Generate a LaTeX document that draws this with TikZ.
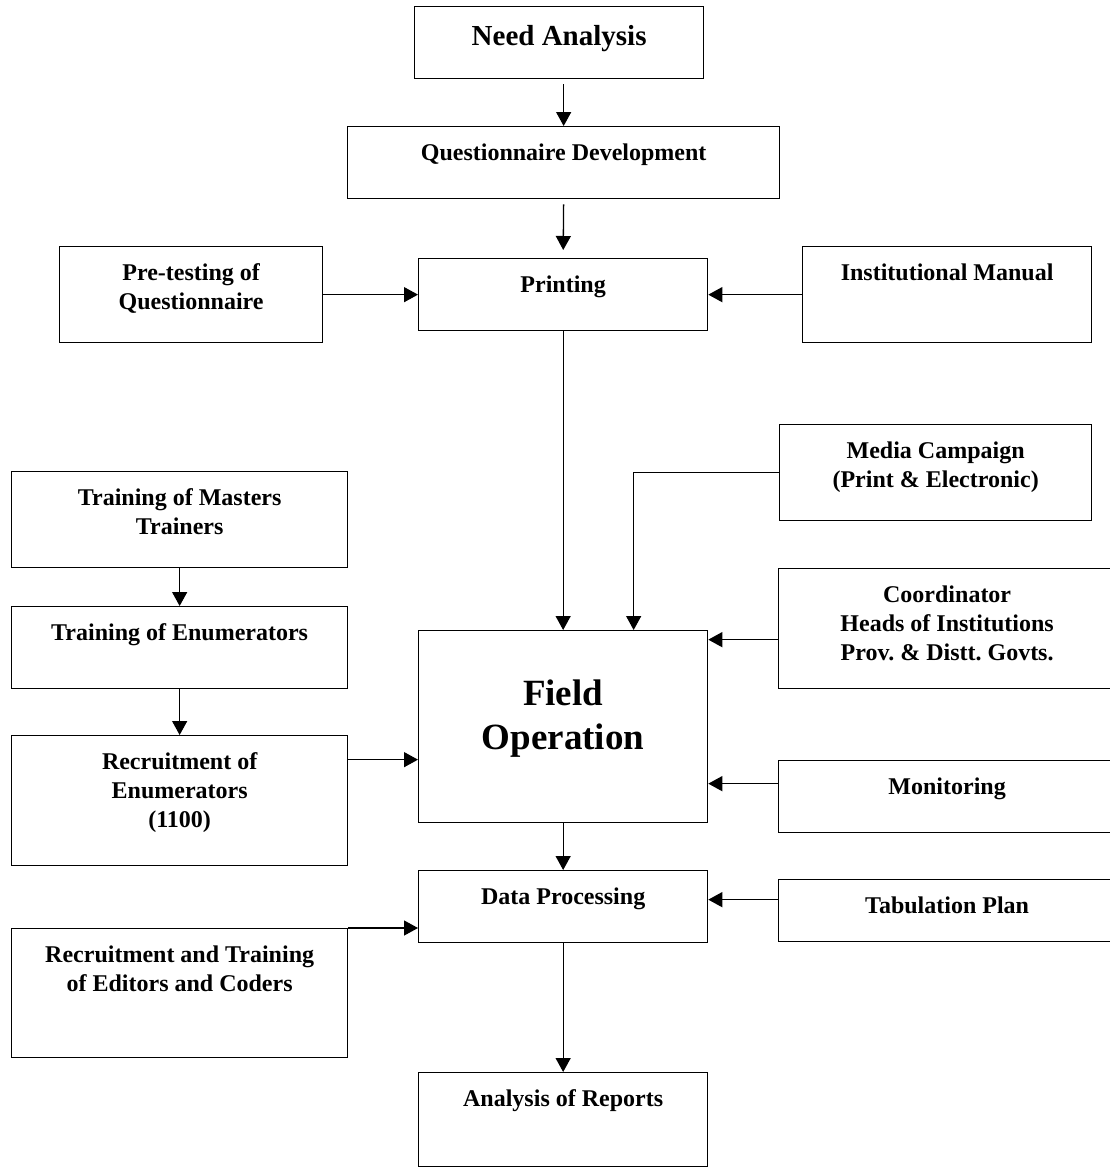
\documentclass[tikz,border=0pt]{standalone}
\usepackage{fontspec}
\setmainfont{Liberation Serif}
\usetikzlibrary{arrows.meta}

\begin{document}
\frenchspacing
\begin{tikzpicture}[x=1pt, y=-1pt,
    box/.style 2 args={draw, line width=1.3pt, anchor=north west, inner sep=0pt,
      align=flush center, text width=#1, text height=34pt, text depth=#2,
      font=\fontsize{24}{29}\selectfont\bfseries},
    arr/.style={-{Triangle[length=14pt, width=15pt]}, line width=1.3pt}]
    \useasboundingbox (0,0) rectangle (1110,1167);
    \clip (0,0) rectangle (1110,1167);
    \fill[white] (0,0) rectangle (1110,1167);
    \node[box={289pt}{33pt}, text height=39pt, font=\fontsize{29}{35}\selectfont\bfseries] (need) at (414,6) {Need Analysis};
    \node[box={432pt}{38pt}] (quest) at (347,126) {Questionnaire Development};
    \node[box={263pt}{62pt}] (pretest) at (59,246) {Pre-testing of\\Questionnaire};
    \node[box={289pt}{38pt}] (print) at (418,258) {Printing};
    \node[box={289pt}{62pt}] (manual) at (802,246) {Institutional Manual};
    \node[box={312pt}{62pt}] (media) at (779,424) {Media Campaign\\(Print \& Electronic)};
    \node[box={336pt}{62pt}] (master) at (11,471) {Training of Masters\\Trainers};
    \node[box={336pt}{48pt}] (enumtrain) at (11,606) {Training of Enumerators};
    \node[box={337pt}{86pt}] (coord) at (778,568) {Coordinator\\Heads of Institutions\\Prov. \& Distt. Govts.};
    \node[box={289pt}{117pt}, text height=75pt, font=\fontsize{37}{44}\selectfont\bfseries] (field) at (418,630) {Field\\Operation};
    \node[box={336pt}{96pt}] (recruit) at (11,735) {Recruitment of\\Enumerators\\(1100)};
    \node[box={337pt}{38pt}] (monitor) at (778,760) {Monitoring};
    \node[box={289pt}{38pt}] (dataproc) at (418,870) {Data Processing};
    \node[box={337pt}{28pt}] (tab) at (778,879) {Tabulation Plan};
    \node[box={336pt}{95pt}] (editors) at (11,928) {Recruitment and Training\\of Editors and Coders};
    \node[box={289pt}{60pt}] (analysis) at (418,1072) {Analysis of Reports};
    \draw[arr, shorten <=5pt] (need.south -| quest.north) -- (quest.north);
    \draw[arr, shorten <=5pt, shorten >=8pt] (quest.south) -- (print.north);
    \draw[arr] (pretest.east) -- (print.west); \draw[arr] (manual.west) -- (print.east);
    \draw[arr] (print.south) -- (field.north);
    \draw[arr] (media.west) -| ([xshift=70.5pt]field.north);
    \draw[arr] ([yshift=-11pt]coord.west) -- ([yshift=-11pt]coord.west -| field.east);
    \draw[arr] ([yshift=13pt]monitor.west) -- ([yshift=13pt]monitor.west -| field.east);
    \draw[arr] (master.south) -- (enumtrain.north); \draw[arr] (enumtrain.south) -- (recruit.north);
    \draw[arr] ([yshift=41pt]recruit.east) -- ([yshift=41pt]recruit.east -| field.west);
    \draw[arr] (field.south) -- (dataproc.north);
    \draw[arr] ([yshift=11pt]tab.west) -- ([yshift=11pt]tab.west -| dataproc.east);
    \draw[arr] (editors.north east) -- (editors.north east -| dataproc.west);
    \draw[arr] (dataproc.south) -- (analysis.north);
\end{tikzpicture}
\end{document}
